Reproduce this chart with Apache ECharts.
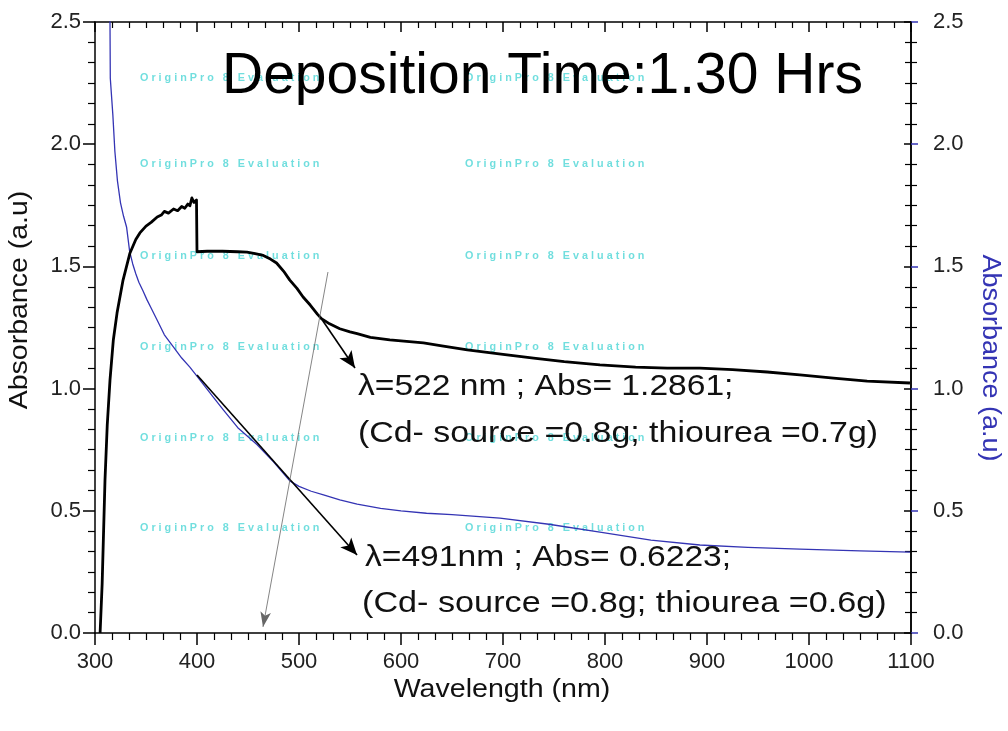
<!DOCTYPE html>
<html>
<head>
<meta charset="utf-8">
<script src="https://cdn.jsdelivr.net/npm/echarts@6/dist/echarts.min.js"></script>
<style>
  html, body { margin: 0; padding: 0; background: #ffffff; }
  #chart { width: 1008px; height: 731px; }
</style>
</head>
<body>
<div id="chart"></div>
<script>
// Film grown with thiourea 0.7 g (left axis, black trace)
const film07Wavelength = [305, 307, 309.8, 312, 314.7, 318, 321.6, 327.5, 334.3, 340, 344, 350, 355, 361, 365, 368, 372, 377, 381, 385, 388, 391, 393, 395, 397, 399.5, 400, 410, 425, 440, 449, 457, 465, 472, 478, 485, 491, 498, 504, 511, 518, 522, 530, 540, 550, 557, 570, 589, 600, 622, 640, 665, 700, 730, 760, 795, 830, 861, 893, 925, 959, 991, 1024, 1057, 1099];
const film07Absorbance = [0.0, 0.2, 0.626, 0.85, 1.035, 1.2, 1.309, 1.444, 1.555, 1.61, 1.637, 1.665, 1.68, 1.702, 1.71, 1.725, 1.718, 1.735, 1.728, 1.745, 1.738, 1.755, 1.748, 1.78, 1.762, 1.772, 1.56, 1.562, 1.562, 1.56, 1.558, 1.552, 1.545, 1.53, 1.514, 1.48, 1.444, 1.41, 1.375, 1.342, 1.305, 1.2861, 1.265, 1.245, 1.232, 1.225, 1.21, 1.199, 1.195, 1.187, 1.175, 1.158, 1.14, 1.125, 1.11, 1.097, 1.088, 1.084, 1.084, 1.078, 1.068, 1.056, 1.043, 1.031, 1.023];

// Film grown with thiourea 0.6 g (right axis, blue trace)
const film06Wavelength = [314.5, 314.7, 315, 317.5, 319.5, 322, 325, 328, 331, 334, 337, 340, 343, 347, 351, 355, 361, 368, 377, 385, 393, 403, 415, 426, 440, 459, 475, 491, 500, 512, 524, 540, 557, 580, 600, 625, 650, 697, 745, 795, 845, 893, 940, 991, 1050, 1099];
const film06Absorbance = [2.9, 2.5, 2.27, 2.12, 1.97, 1.85, 1.76, 1.705, 1.66, 1.56, 1.51, 1.47, 1.435, 1.40, 1.363, 1.33, 1.28, 1.22, 1.17, 1.125, 1.088, 1.035, 0.97, 0.912, 0.84, 0.77, 0.70, 0.6223, 0.60, 0.58, 0.565, 0.545, 0.527, 0.51, 0.50, 0.49, 0.484, 0.47, 0.445, 0.413, 0.38, 0.36, 0.35, 0.343, 0.336, 0.331];

// Axis tick values
const wavelengthTicks = [300, 400, 500, 600, 700, 800, 900, 1000, 1100];
const absorbanceTicks = [0.0, 0.5, 1.0, 1.5, 2.0, 2.5];

// Band-edge readings quoted in the annotations
const peak07 = [522, 1.2861];
const peak06 = [491, 0.6223];

// Annotation arrows in data coordinates: [from, to]
const arrow07 = [peak07, [554.9, 1.084]];
const arrow06 = [[400, 1.056], [556.9, 0.319]];
const guideArrow = [[528.4, 1.477], [464.7, 0.025]];

const FONT = '"Liberation Sans", Arial, Helvetica, sans-serif';

function zip(xs, ys) { return xs.map((x, i) => [x, ys[i]]); }

const chart = echarts.init(document.getElementById('chart'), null, { renderer: 'canvas' });

const xStep = wavelengthTicks[1] - wavelengthTicks[0];
const yStep = absorbanceTicks[1] - absorbanceTicks[0];
const xMin = wavelengthTicks[0], xMax = wavelengthTicks[wavelengthTicks.length - 1];
const yMin = absorbanceTicks[0], yMax = absorbanceTicks[absorbanceTicks.length - 1];

const black = '#000000';
const blue = '#3434b4';

function xAxisCfg(pos, inside, showLabel) {
  return {
    type: 'value', position: pos, min: xMin, max: xMax, interval: xStep,
    axisLine: { show: true, onZero: false, lineStyle: { color: black, width: 1.5 } },
    axisTick: { show: true, inside: inside, length: inside ? 10 : 12, lineStyle: { color: black, width: 1.5 } },
    minorTick: { show: true, splitNumber: 6, length: inside ? 6 : 7, lineStyle: { color: black, width: 1.2 } },
    axisLabel: { show: showLabel, color: '#222', fontSize: 22, fontFamily: FONT, margin: 18,
                 formatter: v => String(v) },
    splitLine: { show: false }
  };
}

function yAxisCfg(pos, inside, showLabel, tickColor, margin) {
  return {
    type: 'value', position: pos, min: yMin, max: yMax, interval: yStep,
    axisLine: { show: true, onZero: false, lineStyle: { color: black, width: 1.5 } },
    axisTick: { show: true, inside: inside, length: pos === 'left' ? 12 : 7, lineStyle: { color: tickColor, width: 1.5 } },
    minorTick: { show: true, splitNumber: 6, length: pos === 'left' ? 7 : 6, lineStyle: { color: black, width: 1.2 } },
    axisLabel: { show: showLabel, color: '#222', fontSize: 22, fontFamily: FONT, margin: margin,
                 formatter: v => v.toFixed(1) },
    splitLine: { show: false }
  };
}

function arrowLine(pair, color, width, size) {
  return [
    { coord: pair[0], symbol: 'none' },
    { coord: pair[1], symbol: 'arrow', symbolSize: size, lineStyle: { color: color, width: width } }
  ];
}

// Faint evaluation-copy watermark grid
const watermarkText = 'O r i g i n P r o   8   E v a l u a t i o n';
const watermarkRows = [78, 164, 256, 347, 438, 528];
const watermarkCols = [140, 465];
const watermark = [];
watermarkRows.forEach(y => watermarkCols.forEach(x => {
  watermark.push({
    type: 'text', x: x, y: y, z: 0, silent: true, scaleX: 1.08,
    style: { text: watermarkText, fill: '#58d8d8', opacity: 0.85,
             font: 'bold 10px ' + FONT, textVerticalAlign: 'middle' }
  });
}));

const annotationStyle = (txt) => ({ text: txt, fill: '#111', font: '30px ' + FONT, textVerticalAlign: 'middle' });

const option = {
  animation: false,
  backgroundColor: '#ffffff',
  grid: { left: 95, right: 97, top: 22, bottom: 98, containLabel: false },
  xAxis: [ xAxisCfg('bottom', false, true), xAxisCfg('top', true, false) ],
  yAxis: [
    yAxisCfg('left', false, true, black, 14),
    yAxisCfg('right', false, true, blue, 22),
    yAxisCfg('right', true, false, black, 10)
  ],
  graphic: watermark.concat([
    { type: 'text', x: 222, y: 77, z: 10,
      style: { text: 'Deposition Time:1.30 Hrs', fill: '#000', font: '57px ' + FONT, textVerticalAlign: 'middle' } },
    { type: 'text', x: 358, y: 387, z: 10, scaleX: 1.12,
      style: annotationStyle(`λ=${peak07[0]} nm ; Abs= ${peak07[1]};`) },
    { type: 'text', x: 358, y: 434, z: 10, scaleX: 1.13,
      style: annotationStyle('(Cd- source =0.8g; thiourea =0.7g)') },
    { type: 'text', x: 365, y: 558, z: 10, scaleX: 1.12,
      style: annotationStyle(`λ=${peak06[0]}nm ; Abs= ${peak06[1]};`) },
    { type: 'text', x: 362, y: 604, z: 10, scaleX: 1.14,
      style: annotationStyle('(Cd- source =0.8g; thiourea =0.6g)') },
    { type: 'text', x: 502, y: 690, z: 10, scaleX: 1.1,
      style: { text: 'Wavelength (nm)', fill: '#111', font: '26px ' + FONT, textAlign: 'center', textVerticalAlign: 'middle' } },
    { type: 'text', x: 20, y: 300, z: 10, scaleX: 1.14, rotation: Math.PI / 2,
      style: { text: 'Absorbance (a.u)', fill: '#111', font: '25px ' + FONT, textAlign: 'center', textVerticalAlign: 'middle' } },
    { type: 'text', x: 990, y: 358, z: 10, scaleX: 1.08, rotation: -Math.PI / 2,
      style: { text: 'Absorbance (a.u)', fill: blue, font: '25px ' + FONT, textAlign: 'center', textVerticalAlign: 'middle' } }
  ]),
  series: [
    {
      name: 'thiourea 0.7 g', type: 'line', xAxisIndex: 0, yAxisIndex: 0,
      data: zip(film07Wavelength, film07Absorbance),
      showSymbol: false, symbol: 'none', clip: true, z: 4,
      lineStyle: { color: black, width: 2.8, join: 'round' },
      markLine: {
        silent: true, animation: false, label: { show: false },
        lineStyle: { type: 'solid', color: black, width: 1.6 },
        data: [
          arrowLine(arrow07, black, 1.6, [11, 17]),
          arrowLine(arrow06, black, 1.6, [11, 17]),
          arrowLine(guideArrow, '#666', 0.8, [8, 15])
        ]
      }
    },
    {
      name: 'thiourea 0.6 g', type: 'line', xAxisIndex: 0, yAxisIndex: 1,
      data: zip(film06Wavelength, film06Absorbance),
      showSymbol: false, symbol: 'none', clip: true, z: 3,
      lineStyle: { color: blue, width: 1.3, join: 'round' }
    }
  ]
};

chart.setOption(option);
</script>
</body>
</html>
